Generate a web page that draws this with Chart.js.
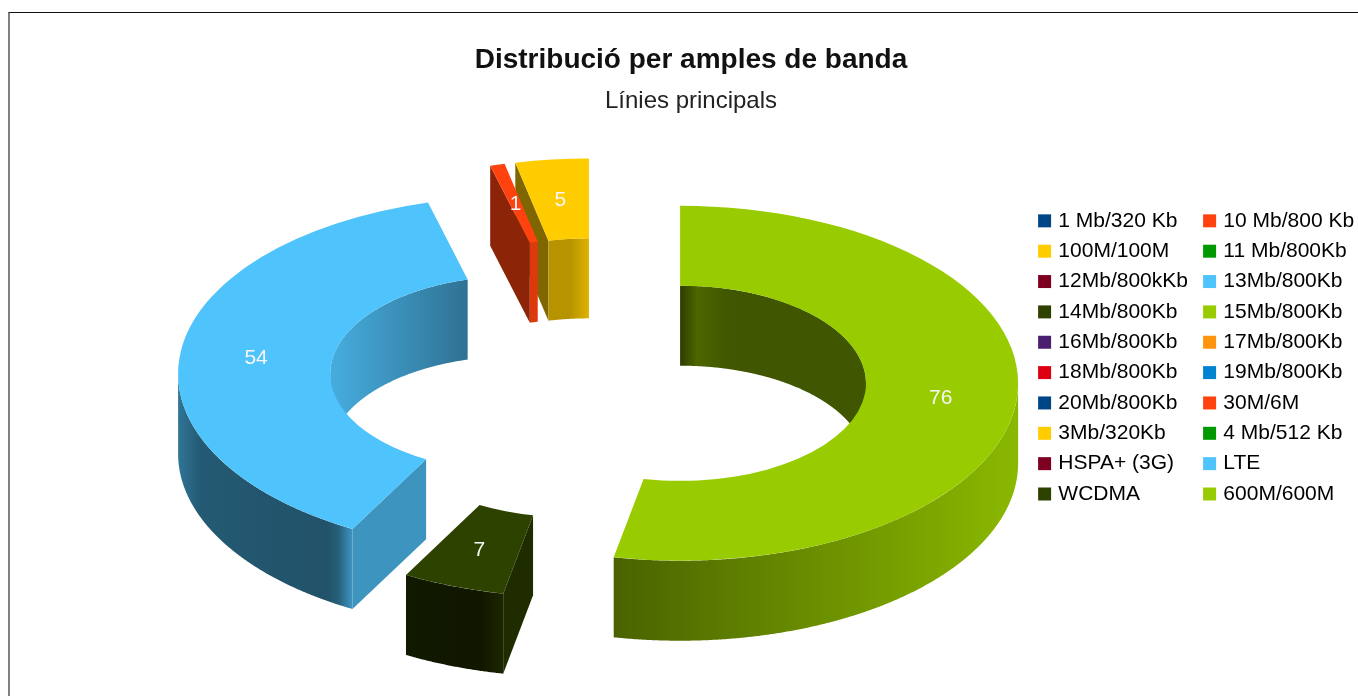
<!DOCTYPE html>
<html lang="ca">
<head>
  <meta charset="UTF-8" />
  <title>Distribució per amples de banda</title>
  <script src="https://cdn.jsdelivr.net/npm/chart.js"></script>
  <style>
    html, body { margin: 0; height: 696px; overflow: hidden; background: #fff; }
    #frame { position: absolute; left: 8px; top: 12px; width: 1400px; height: 700px;
             border-top: 1px solid #111; border-left: 2px solid #808080; }
    canvas { position: absolute; left: 0; top: 0; }
  </style>
</head>
<body>
  <div id="frame"></div>
  <canvas id="chart" width="1382" height="696"></canvas>

  <script>
    const labels = ['1 Mb/320 Kb', '10 Mb/800 Kb', '100M/100M', '11 Mb/800Kb', '12Mb/800kKb', '13Mb/800Kb',
      '14Mb/800Kb', '15Mb/800Kb', '16Mb/800Kb', '17Mb/800Kb', '18Mb/800Kb', '19Mb/800Kb', '20Mb/800Kb',
      '30M/6M', '3Mb/320Kb', '4 Mb/512 Kb', 'HSPA+ (3G)', 'LTE', 'WCDMA', '600M/600M'];
    const values = [0, 0, 5, 0, 0, 0, 0, 0, 0, 0, 0, 0, 0, 1, 0, 0, 0, 54, 7, 76];
    const colors = ['#004586', '#ff420e', '#ffcc00', '#009900', '#7e0021', '#4fc3fb', '#2e4200', '#99cc00',
      '#4b1f6f', '#ff950e', '#dd0011', '#0084d1', '#004586', '#ff420e', '#ffcc00', '#009900', '#7e0021',
      '#4fc3fb', '#2e4200', '#99cc00'];

    // 3D view of the ring, in page pixels
    const CX = 598, CY = 379, RADIUS = 338, TILT = 0.525, EXPLODE = 82.5, DEPTH = 80;

    // wall shading: [page x, brightness]
    const outerShade = {
      'LTE': [[172, 0.64], [200, 0.46], [326, 0.42], [338, 0.48], [352, 0.76]],
      'WCDMA': [[404, 0.38], [480, 0.34], [506, 0.62]],
      '600M/600M': [[611, 0.48], [800, 0.68], [1015, 0.9]]
    };
    const innerShade = {
      'LTE': [[333, 0.88], [470, 0.58]],
      '100M/100M': [[547, 0.72], [570, 0.72], [590, 0.88]],
      '30M/6M': [[528, 0.85], [540, 0.88]],
      '600M/600M': [[680, 0.3], [697, 0.5], [730, 0.42], [867, 0.42]]
    };
    const faceShade = { 'LTE': 0.76, 'WCDMA': 0.66, '30M/6M': 0.55, '100M/100M': 0.5 };

    function shade(hex, f) {
      const n = parseInt(hex.slice(1), 16);
      return `rgb(${(n >> 16) * f},${((n >> 8) & 255) * f},${(n & 255) * f})`;
    }

    function wallFill(ctx, hex, stops) {
      const x0 = stops[0][0], x1 = stops[stops.length - 1][0];
      const g = ctx.createLinearGradient(x0, 0, x1, 0);
      stops.forEach(s => g.addColorStop((s[0] - x0) / (x1 - x0), shade(hex, s[1])));
      return g;
    }

    // the arcs are mirrored so that the slices run counter-clockwise from 12 o'clock
    function project(arc, angle, r) {
      const mid = (arc.startAngle + arc.endAngle) / 2;
      const x = CX - Math.cos(mid) * EXPLODE, y = CY + Math.sin(mid) * EXPLODE * TILT;
      return { x: x - Math.cos(angle) * r, y: y + Math.sin(angle) * r * TILT };
    }

    function fillPoly(ctx, pts, fill) {
      ctx.beginPath();
      pts.forEach((p, i) => i ? ctx.lineTo(p.x, p.y) : ctx.moveTo(p.x, p.y));
      ctx.closePath();
      ctx.fillStyle = fill;
      ctx.fill();
    }

    function drawWall(ctx, arc, r, back, fill) {
      const steps = Math.ceil((arc.endAngle - arc.startAngle) / 0.004);
      const top = [];
      for (let i = 0; i <= steps; i++) {
        const a = arc.startAngle + (arc.endAngle - arc.startAngle) * i / steps;
        if (back ? Math.sin(a) <= 0 : Math.sin(a) >= 0) top.push(project(arc, a, r));
      }
      if (top.length < 2) return;
      const bottom = top.map(p => ({ x: p.x, y: p.y + DEPTH })).reverse();
      fillPoly(ctx, top.concat(bottom), fill);
    }

    function drawFace(ctx, arc, angle, ri, ro, fill) {
      const a = project(arc, angle, ri), b = project(arc, angle, ro);
      fillPoly(ctx, [a, b, { x: b.x, y: b.y + DEPTH }, { x: a.x, y: a.y + DEPTH }], fill);
    }

    const ring3d = {
      id: 'ring3d',
      afterLayout(chart) {
        // two legend columns of ten rows, placed like the reference
        const legend = chart.legend;
        legend.columnSizes[0].width = 165 - legend.options.labels.padding;
        legend.left = 1032; legend.right = 1382;
        legend.top = 201; legend.bottom = 528;
      },
      beforeDatasetsDraw(chart) {
        const ctx = chart.ctx;
        const arcs = chart.getDatasetMeta(0).data
          .map((arc, i) => ({ arc, i }))
          .filter(o => values[o.i] > 0)
          .sort((p, q) => project(p.arc, 0, 0).y - project(q.arc, 0, 0).y);

        arcs.forEach(({ arc, i }) => {
          const scale = RADIUS / arc.outerRadius, ri = arc.innerRadius * scale;
          const name = labels[i], hex = colors[i];
          const face = shade(hex, faceShade[name] || 0.5);
          if (Math.cos(arc.endAngle) > 0.001) drawFace(ctx, arc, arc.endAngle, ri, RADIUS, face);
          if (Math.cos(arc.startAngle) < -0.001) drawFace(ctx, arc, arc.startAngle, ri, RADIUS, face);
          if (innerShade[name]) drawWall(ctx, arc, ri, true, wallFill(ctx, hex, innerShade[name]));
          if (outerShade[name]) drawWall(ctx, arc, RADIUS, false, wallFill(ctx, hex, outerShade[name]));

          // top of the slice: the library's own arc, squashed and moved out
          const c = project(arc, 0, 0);
          ctx.save();
          ctx.translate(c.x, c.y);
          ctx.scale(-scale, scale * TILT);
          ctx.translate(-arc.x, -arc.y);
          arc.draw(ctx);
          ctx.restore();
        });

        ctx.fillStyle = '#f6f6f6';
        ctx.font = '21px "Liberation Sans"';
        ctx.textAlign = 'center';
        ctx.textBaseline = 'middle';
        arcs.forEach(({ arc, i }) => {
          const scale = RADIUS / arc.outerRadius;
          const p = project(arc, (arc.startAngle + arc.endAngle) / 2, (arc.innerRadius + arc.outerRadius) / 2 * scale);
          ctx.fillText(values[i], p.x, p.y + 1);
        });
        return false;
      }
    };

    Chart.defaults.font.family = '"Liberation Sans", Arial, sans-serif';

    new Chart(document.getElementById('chart').getContext('2d'), {
      type: 'doughnut',
      data: {
        labels: labels,
        datasets: [{ data: values, backgroundColor: colors, borderWidth: 0 }]
      },
      options: {
        responsive: false,
        animation: false,
        rotation: 0,
        cutout: '55%',
        // keeps the legend's own fit at two columns
        layout: { padding: { bottom: 256 } },
        plugins: {
          title: {
            display: true,
            text: 'Distribució per amples de banda',
            color: '#111',
            font: { size: 28, weight: 'bold' },
            padding: { top: 43, bottom: 10 }
          },
          subtitle: {
            display: true,
            text: 'Línies principals',
            color: '#222',
            font: { size: 24, weight: 'normal' },
            padding: { top: 0, bottom: 0 }
          },
          legend: {
            position: 'right',
            align: 'start',
            labels: {
              color: '#1a1a2a',
              font: { size: 21 },
              boxWidth: 6.5,
              boxHeight: 6.5,
              padding: 9.35,
              // row by row in the reference, so fill the columns in that order
              generateLabels: () => labels.map((l, i) => i)
                .sort((a, b) => a % 2 - b % 2 || a - b)
                .map(i => ({ text: labels[i], fillStyle: colors[i], strokeStyle: colors[i], lineWidth: 6.5, index: i }))
            }
          },
          tooltip: { enabled: false }
        }
      },
      plugins: [ring3d]
    });
  </script>
</body>
</html>
